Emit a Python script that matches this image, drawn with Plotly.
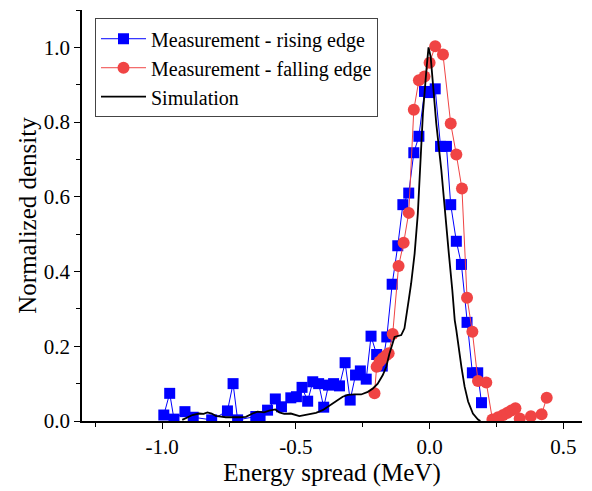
import plotly.graph_objects as go

# Measurement - rising edge (blue squares)
rise_x = [-0.994, -0.972, -0.956, -0.915, -0.884, -0.815, -0.756, -0.735, -0.718,
          -0.650, -0.634, -0.606, -0.577, -0.554, -0.519, -0.498, -0.477, -0.456,
          -0.437, -0.415, -0.396, -0.378, -0.359, -0.337, -0.316, -0.297, -0.277,
          -0.259, -0.237, -0.219, -0.198, -0.177, -0.160, -0.140, -0.119, -0.100,
          -0.078, -0.059, -0.040, -0.019, 0.000, 0.021, 0.041, 0.063, 0.079,
          0.100, 0.119, 0.140, 0.160, 0.180, 0.194]
rise_y = [0.016, 0.074, 0.005, 0.025, 0.010, 0.003, 0.027, 0.100, 0.003,
          0.012, 0.012, 0.029, 0.059, 0.038, 0.062, 0.065, 0.090, 0.053,
          0.105, 0.100, 0.037, 0.096, 0.100, 0.094, 0.156, 0.056, 0.123,
          0.134, 0.112, 0.227, 0.178, 0.147, 0.225, 0.366, 0.469, 0.579,
          0.610, 0.718, 0.762, 0.882, 0.879, 0.889, 0.735, 0.735, 0.579,
          0.481, 0.419, 0.264, 0.129, 0.129, 0.049]

# Measurement - falling edge (red circles)
fall_x = [-0.206, -0.198, -0.187, -0.175, -0.162, -0.153, -0.138, -0.116, -0.097,
          -0.078, -0.059, -0.040, -0.019, 0.000, 0.021, 0.050, 0.079, 0.100,
          0.121, 0.140, 0.160, 0.181, 0.212, 0.235, 0.256, 0.275, 0.291, 0.306,
          0.321, 0.337, 0.379, 0.419, 0.438]
fall_y = [0.074, 0.145, 0.159, 0.168, 0.176, 0.181, 0.233, 0.415, 0.477,
          0.557, 0.833, 0.912, 0.922, 0.959, 1.003, 0.981, 0.796, 0.713,
          0.622, 0.330, 0.239, 0.107, 0.103, 0.004, 0.010, 0.016, 0.022, 0.028,
          0.034, 0.007, 0.013, 0.018, 0.062]

# Simulation (black line)
sim_x = [-0.925, -0.900, -0.887, -0.862, -0.845, -0.831, -0.815, -0.800, -0.762,
         -0.712, -0.687, -0.662, -0.644, -0.619, -0.600, -0.577, -0.562, -0.544,
         -0.519, -0.487, -0.450, -0.425, -0.400, -0.375, -0.350, -0.325, -0.306,
         -0.281, -0.256, -0.231, -0.212, -0.194, -0.175, -0.162, -0.150, -0.131,
         -0.118, -0.106, -0.094, -0.085, -0.078, -0.069, -0.056, -0.044, -0.035,
         -0.025, -0.012, -0.004, 0.004, 0.012, 0.025, 0.044, 0.060, 0.072, 0.085,
         0.094, 0.100, 0.106, 0.119, 0.131, 0.144, 0.162, 0.181, 0.190]
sim_y = [0.003, 0.012, 0.016, 0.020, 0.019, 0.023, 0.020, 0.014, 0.010,
         0.010, 0.011, 0.020, 0.025, 0.023, 0.028, 0.031, 0.023, 0.019,
         0.020, 0.013, 0.018, 0.022, 0.029, 0.040, 0.053, 0.065, 0.070,
         0.071, 0.071, 0.078, 0.087, 0.100, 0.123, 0.145, 0.181, 0.225,
         0.228, 0.230, 0.248, 0.297, 0.324, 0.368, 0.448, 0.555, 0.671,
         0.823, 0.939, 1.000, 0.975, 0.912, 0.796, 0.671, 0.555, 0.448, 0.350,
         0.270, 0.243, 0.208, 0.145, 0.092, 0.052, 0.020, 0.004, 0.000]

# Tick labels (hyphen minus as in the original)
x_tickvals = [-1.0, -0.5, 0.0, 0.5]
x_ticktext = ["-1.0", "-0.5", "0.0", "0.5"]

x_range = [-1.3, 0.57]
y_range = [0, 1.1]
FONT = "Liberation Serif"

fig = go.Figure()
fig.add_trace(go.Scatter(x=rise_x, y=rise_y, mode="lines+markers",
                         name="Measurement - rising edge",
                         line=dict(color="#0000FF", width=1),
                         marker=dict(symbol="square", size=11, color="#0000FF")))
fig.add_trace(go.Scatter(x=fall_x, y=fall_y, mode="lines+markers",
                         name="Measurement - falling edge",
                         line=dict(color="#F04444", width=1),
                         marker=dict(symbol="circle", size=12, color="#F04444")))
fig.add_trace(go.Scatter(x=sim_x, y=sim_y, mode="lines", name="Simulation",
                         line=dict(color="black", width=1.8)))

axis_common = dict(showgrid=False, zeroline=False, linecolor="black", linewidth=1.5,
                   tickcolor="black", tickwidth=1.2, showline=True, automargin=False)

fig.update_layout(
    width=592, height=491,
    margin=dict(l=82, r=10, t=10, b=70),
    plot_bgcolor="white", paper_bgcolor="white",
    font=dict(family=FONT, size=21, color="black"),
    showlegend=True,
    legend=dict(x=0.026, y=0.98, xanchor="left", yanchor="top",
                bordercolor="#444444", borderwidth=1, bgcolor="white",
                font=dict(family=FONT, size=20), tracegroupgap=0,
                itemwidth=45),
    xaxis=dict(range=x_range, ticks="outside", ticklen=6,
               tickmode="array", tickvals=x_tickvals, ticktext=x_ticktext,
               title=dict(text="Energy spread (MeV)", font=dict(size=25), standoff=0),
               minor=dict(tickmode="linear", dtick=0.25, tick0=0, ticks="outside",
                          ticklen=4, tickcolor="black"),
               **axis_common),
    yaxis=dict(range=y_range, ticks="outside", ticklen=6, dtick=0.2, tick0=0,
               tickformat=".1f",
               title=dict(text="Normalized density", font=dict(size=25), standoff=0),
               minor=dict(dtick=0.1, tick0=0, ticks="outside", ticklen=4,
                          tickcolor="black"),
               **axis_common),
    xaxis2=dict(range=x_range, overlaying="x", side="top", anchor="y",
                ticks="inside", ticklen=6, dtick=0.5, tick0=0, showticklabels=False,
                minor=dict(dtick=0.25, tick0=0, ticks="inside", ticklen=4,
                           tickcolor="black"),
                **axis_common),
    yaxis2=dict(range=y_range, overlaying="y", side="right", anchor="x",
                ticks="inside", ticklen=6, dtick=0.2, tick0=0, showticklabels=False,
                minor=dict(dtick=0.1, tick0=0, ticks="inside", ticklen=4,
                           tickcolor="black"),
                **axis_common),
)

fig.write_html("out.html")
